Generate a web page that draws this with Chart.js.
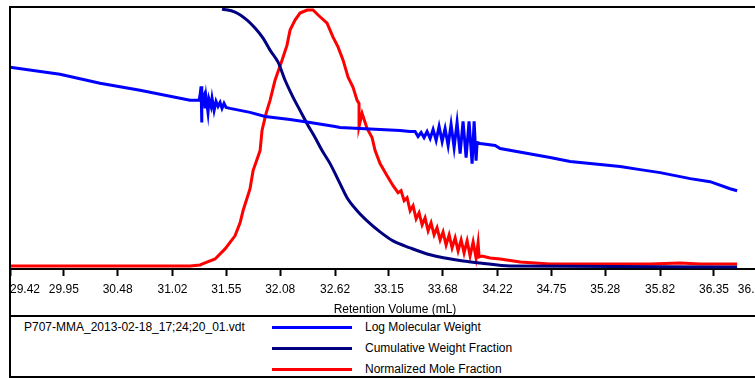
<!DOCTYPE html>
<html>
<head>
<meta charset="utf-8">
<script src="https://cdn.jsdelivr.net/npm/chart.js@4.4.1/dist/chart.umd.min.js"></script>
<style>
  html, body { margin: 0; padding: 0; background: #fff; overflow: hidden; }
  body { width: 755px; height: 378px; position: relative; font-family: "Liberation Sans", Arial, sans-serif; }
  #chartBox { position: absolute; left: 0; top: 0; width: 780px; height: 316px; }
  #legend { position: absolute; left: 9px; top: 315px; width: 800px; height: 63px; box-sizing: border-box;
            border: 2px solid #000; border-right: none; font-size: 12px; color: #000; background: #fff; }
  .row { position: absolute; left: 0; width: 100%; height: 21px; line-height: 21px; white-space: nowrap; }
  .file { position: absolute; left: 13px; }
  .swatch { position: absolute; left: 261px; top: 9px; width: 80px; height: 3px; }
  .lbl { position: absolute; left: 354px; }
</style>
</head>
<body>
<div id="chartBox"><canvas id="gpcChart" width="780" height="316"></canvas></div>
<div id="legend"></div>
<script>
// x axis ticks (mL)
const tickValues = [29.42, 29.95, 30.48, 31.02, 31.55, 32.08, 32.62, 33.15, 33.68, 34.22, 34.75, 35.28, 35.82, 36.35, 36.88];
const tickLabels = ['29.42', '29.95', '30.48', '31.02', '31.55', '32.08', '32.62', '33.15', '33.68', '34.22', '34.75', '35.28', '35.82', '36.35', '36.88'];

const fileName = 'P707-MMA_2013-02-18_17;24;20_01.vdt';

// Log Molecular Weight
const logMwVolume = [
  29.420, 29.912, 30.306, 30.700, 31.192, 31.242, 31.281, 31.291, 31.301, 31.306,
  31.310, 31.330, 31.340, 31.350, 31.369, 31.379, 31.399, 31.409, 31.429, 31.448,
  31.468, 31.488, 31.507, 31.527, 31.547, 31.586,
  31.783, 31.931, 32.177, 32.374, 32.620, 32.669, 33.063, 33.260, 33.359,
  33.408, 33.437, 33.467, 33.496, 33.526, 33.556, 33.585, 33.615, 33.644, 33.674,
  33.703, 33.733, 33.762, 33.792, 33.821, 33.851, 33.880, 33.910, 33.939, 33.969,
  33.989, 34.008, 34.018, 34.048, 34.196,
  34.245, 34.737, 34.934, 35.131, 35.426, 35.623, 35.820, 36.116, 36.312, 36.509, 36.578
];
const logMw = [
  5.865, 5.731, 5.558, 5.423, 5.231, 5.231, 5.231, 5.327, 5.500, 4.808,
  5.231, 5.327, 5.077, 5.288, 5.000, 5.250, 5.115, 5.269, 5.038, 5.212,
  5.115, 5.192, 5.077, 5.173, 5.096, 5.077,
  5.000, 4.923, 4.865, 4.808, 4.731, 4.712, 4.673, 4.654, 4.635,
  4.635, 4.538, 4.615, 4.519, 4.635, 4.500, 4.673, 4.462, 4.731, 4.442,
  4.692, 4.365, 4.769, 4.327, 4.808, 4.212, 4.827, 4.135, 4.827, 4.019,
  4.827, 4.077, 4.423, 4.404, 4.365,
  4.308, 4.135, 4.058, 4.019, 3.962, 3.904, 3.846, 3.731, 3.673, 3.538, 3.500
];

// Cumulative Weight Fraction
const cumVolume = [
  31.507, 31.635, 31.754, 31.832, 31.911, 31.980, 32.059, 32.128, 32.207, 32.275,
  32.354, 32.423, 32.492, 32.571, 32.669, 32.738, 32.837, 32.935, 33.063, 33.191,
  33.359, 33.526, 33.703, 33.880, 34.048, 34.343, 36.578
];
const cumFraction = [
  0.9962, 0.9846, 0.9538, 0.9231, 0.8846, 0.8385, 0.7923, 0.7231, 0.6577, 0.6077,
  0.5500, 0.5038, 0.4538, 0.4038, 0.3269, 0.2731, 0.2231, 0.1846, 0.1423, 0.1077,
  0.0808, 0.0577, 0.0423, 0.0308, 0.0231, 0.0115, 0.0077
];

// Normalized Mole Fraction
const moleVolume = [
  29.420, 31.192, 31.291, 31.340, 31.439, 31.537, 31.635, 31.685, 31.714, 31.783,
  31.813, 31.882, 31.901, 31.941, 31.980, 32.029, 32.098, 32.147, 32.177, 32.226,
  32.275, 32.344, 32.403, 32.453, 32.541, 32.600, 32.650, 32.699, 32.748, 32.797,
  32.837, 32.856, 32.856, 32.886, 32.935, 32.984, 33.014, 33.063, 33.132, 33.191,
  33.240, 33.270, 33.300, 33.329, 33.359, 33.388, 33.418, 33.447, 33.477, 33.506,
  33.536, 33.565, 33.595, 33.624, 33.654, 33.683, 33.713, 33.743, 33.772, 33.802,
  33.831, 33.861, 33.890, 33.920, 33.949, 33.979, 34.008, 34.028, 34.038, 34.067,
  34.146, 34.245, 34.442, 34.737, 35.229, 35.722, 36.017, 36.214, 36.578
];
const moleFraction = [
  0.0115, 0.0115, 0.0154, 0.0231, 0.0385, 0.0769, 0.1269, 0.1769, 0.2231, 0.3077,
  0.3769, 0.4538, 0.5308, 0.5962, 0.6462, 0.7231, 0.8000, 0.8577, 0.9154, 0.9538,
  0.9808, 0.9923, 0.9923, 0.9731, 0.9423, 0.8885, 0.8500, 0.8000, 0.7346, 0.6962,
  0.6462, 0.6346, 0.5462, 0.5962, 0.5385, 0.5038, 0.4538, 0.4038, 0.3577, 0.3192,
  0.2923, 0.3000, 0.2615, 0.2731, 0.2231, 0.2423, 0.1923, 0.2154, 0.1692, 0.1962,
  0.1462, 0.1769, 0.1308, 0.1577, 0.1115, 0.1423, 0.0923, 0.1308, 0.0808, 0.1192,
  0.0692, 0.1115, 0.0615, 0.1077, 0.0500, 0.1038, 0.0423, 0.1000, 0.0462, 0.0500,
  0.0423, 0.0385, 0.0269, 0.0192, 0.0192, 0.0192, 0.0231, 0.0192, 0.0192
];

function toPoints(xs, ys) {
  return xs.map((x, i) => ({ x: x, y: ys[i] }));
}

Chart.defaults.font.family = '"Liberation Sans", Arial, sans-serif';
Chart.defaults.font.size = 12;
Chart.defaults.color = '#000';

// outer frame: left edge runs down to the legend, top edge across
const frameLines = {
  id: 'frameLines',
  afterDraw(chart) {
    const { ctx, chartArea } = chart;
    ctx.save();
    ctx.strokeStyle = '#000';
    ctx.lineWidth = 2;
    ctx.beginPath();
    ctx.moveTo(chartArea.left, chart.height);
    ctx.lineTo(chartArea.left, chartArea.top - 1);
    ctx.lineTo(chart.width, chartArea.top - 1);
    ctx.stroke();
    ctx.restore();
  }
};

const ctx = document.getElementById('gpcChart').getContext('2d');
const gpcChart = new Chart(ctx, {
  type: 'line',
  data: {
    datasets: [{
      label: 'Log Molecular Weight',
      data: toPoints(logMwVolume, logMw),
      borderColor: '#0000ff',
      yAxisID: 'yLog',
      borderWidth: 3,
      tension: 0
    }, {
      label: 'Cumulative Weight Fraction',
      data: toPoints(cumVolume, cumFraction),
      borderColor: '#000080',
      yAxisID: 'yFrac',
      borderWidth: 3,
      cubicInterpolationMode: 'monotone'
    }, {
      label: 'Normalized Mole Fraction',
      data: toPoints(moleVolume, moleFraction),
      borderColor: '#ff0000',
      yAxisID: 'yFrac',
      borderWidth: 3,
      tension: 0
    }]
  },
  options: {
    responsive: false,
    animation: false,
    parsing: false,
    elements: { point: { radius: 0 } },
    layout: { padding: { left: 10, top: 8, right: 0, bottom: 0 } },
    plugins: {
      legend: { display: false },
      tooltip: { enabled: false }
    },
    scales: {
      x: {
        type: 'linear',
        min: 29.42,
        max: 37.0,
        afterBuildTicks: axis => {
          axis.ticks = tickValues.map(v => ({ value: v }));
        },
        ticks: {
          autoSkip: false,
          maxRotation: 0,
          align: 'inner',
          padding: 8,
          font: { size: 12, lineHeight: 1 },
          color: '#000',
          callback: (value, index) => tickLabels[index]
        },
        grid: {
          drawOnChartArea: false,
          drawTicks: true,
          tickLength: 7,
          tickWidth: 2,
          tickColor: '#000'
        },
        border: { display: true, color: '#000', width: 2 },
        title: {
          display: true,
          text: 'Retention Volume (mL)',
          color: '#000',
          font: { size: 12, lineHeight: 1 },
          padding: { top: 0, bottom: 0 }
        }
      },
      yLog: { type: 'linear', display: false, min: 2, max: 7 },
      yFrac: { type: 'linear', display: false, min: 0, max: 1 }
    }
  },
  plugins: [frameLines]
});

// legend box under the plot
const legendBox = document.getElementById('legend');
gpcChart.data.datasets.forEach((ds, i) => {
  const row = document.createElement('div');
  row.className = 'row';
  row.style.top = (i * 21) + 'px';
  if (i === 0) {
    const f = document.createElement('span');
    f.className = 'file';
    f.textContent = fileName;
    row.appendChild(f);
  }
  const sw = document.createElement('span');
  sw.className = 'swatch';
  sw.style.background = ds.borderColor;
  row.appendChild(sw);
  const lb = document.createElement('span');
  lb.className = 'lbl';
  lb.textContent = ds.label;
  row.appendChild(lb);
  legendBox.appendChild(row);
});
</script>
</body>
</html>
